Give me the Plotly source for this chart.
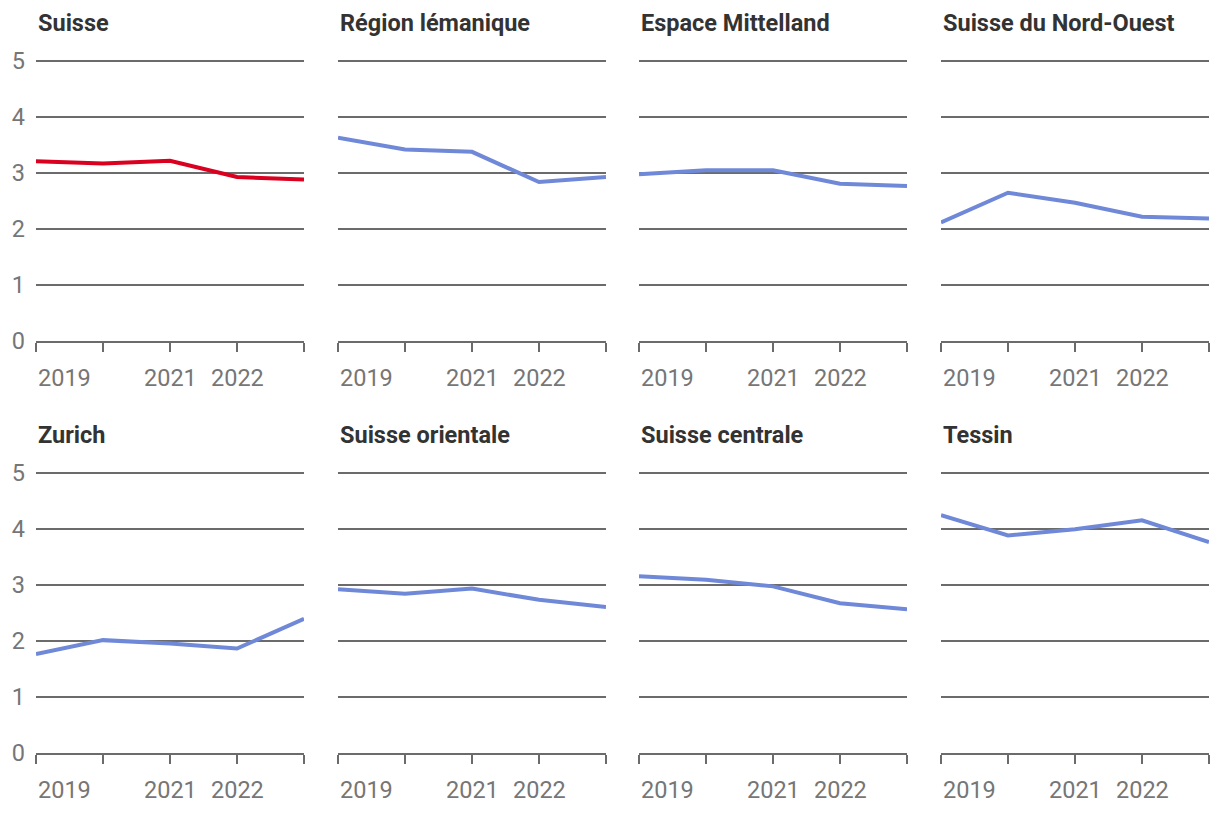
import plotly.graph_objects as go

years = [2019, 2020, 2021, 2022, 2023]
year_labels = ["2019", "", "2021", "2022", ""]
y_ticks = [0, 1, 2, 3, 4, 5]

regions = ["Suisse", "Région lémanique", "Espace Mittelland", "Suisse du Nord-Ouest",
           "Zurich", "Suisse orientale", "Suisse centrale", "Tessin"]

suisse = [3.20, 3.16, 3.21, 2.92, 2.875]
lemanique = [3.62, 3.41, 3.37, 2.83, 2.92]
mittelland = [2.97, 3.04, 3.04, 2.80, 2.76]
nord_ouest = [2.11, 2.64, 2.46, 2.21, 2.18]
zurich = [1.76, 2.01, 1.95, 1.86, 2.39]
orientale = [2.92, 2.84, 2.93, 2.73, 2.60]
centrale = [3.15, 3.09, 2.97, 2.67, 2.56]
tessin = [4.24, 3.88, 3.99, 4.15, 3.76]

series = [suisse, lemanique, mittelland, nord_ouest, zurich, orientale, centrale, tessin]
colors = ["#da0020"] + ["#6f89d8"] * 7

W, H = 1220, 814
col_left = [36, 338, 639, 941]
col_w = 268
row_bottom = [340.0, 765.2]   # pixel position of y=0 in each row
unit = 57.78                  # pixels per y unit
ytop = 5.04
row_h = unit * ytop
title_gap = 39.2              # title centre above the y=5 line
label_gap = 37.2              # x labels centre below the axis

GRID = "#6b6b6b"
TICKC = "#767676"
TITLEC = "#333333"
FONT = "Roboto"

fig = go.Figure()
annotations = []
for i, (name, vals, col) in enumerate(zip(regions, series, colors)):
    r, c = divmod(i, 4)
    idx = "" if i == 0 else str(i + 1)
    xa, ya = "x" + idx, "y" + idx
    fig.add_trace(go.Scatter(x=years, y=vals, mode="lines", line=dict(color=col, width=4),
                             xaxis=xa, yaxis=ya, showlegend=False, hoverinfo="x+y"))
    x0 = col_left[c] / W
    x1 = (col_left[c] + col_w) / W
    y0 = 1 - row_bottom[r] / H
    y1 = 1 - (row_bottom[r] - row_h) / H
    fig.layout["xaxis" + idx] = dict(
        domain=[x0, x1], range=[years[0], years[-1]], anchor=ya,
        tickvals=years, showticklabels=False, ticks="outside", ticklen=9,
        tickwidth=2, tickcolor=GRID, showline=True, linecolor=GRID, linewidth=2,
        showgrid=False, zeroline=False, fixedrange=True)
    fig.layout["yaxis" + idx] = dict(
        domain=[y0, y1], range=[0, ytop], anchor=xa, tickvals=y_ticks,
        showticklabels=(c == 0), ticks="", showgrid=True, gridcolor=GRID, gridwidth=2,
        zeroline=False, showline=False, ticklabelstandoff=10,
        tickfont=dict(family=FONT, size=23.5, color=TICKC), fixedrange=True)
    # title
    annotations.append(dict(text="<b>" + name + "</b>", xref="paper", yref="paper",
                            x=x0, y=1 - (row_bottom[r] - 5 * unit - title_gap) / H,
                            xanchor="left", yanchor="middle", showarrow=False,
                            font=dict(family=FONT, size=23.5, color=TITLEC)))
    # x tick labels
    for yr, lab in zip(years, year_labels):
        if not lab:
            continue
        annotations.append(dict(text=lab, xref=xa, yref=ya, x=yr, y=0, yshift=-label_gap,
                                xanchor="left" if yr == years[0] else "center", yanchor="middle",
                                showarrow=False, font=dict(family=FONT, size=23.5, color=TICKC)))

fig.update_layout(width=W, height=H, margin=dict(l=0, r=0, t=0, b=0), autosize=False,
                  paper_bgcolor="white", plot_bgcolor="white", annotations=annotations,
                  font=dict(family=FONT))
fig.write_html("out.html", config={"displayModeBar": False},
               post_script="document.body.style.margin='0';document.body.style.overflow='hidden';")
